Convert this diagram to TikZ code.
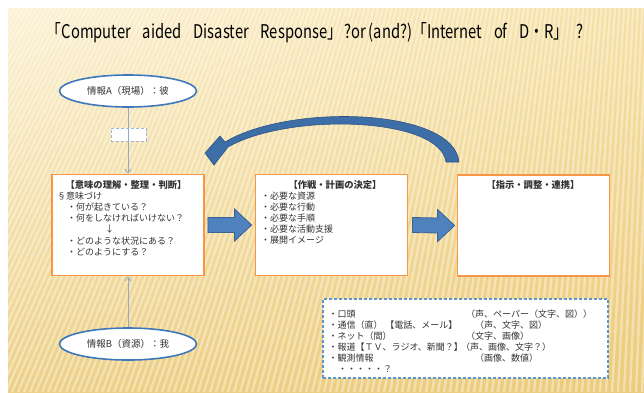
\documentclass[tikz,border=0pt]{standalone}
\usepackage{fontspec}
\setmainfont{Noto Sans CJK JP}
\usetikzlibrary{arrows.meta,calc,shapes.geometric,shadings}
\definecolor{boxorange}{HTML}{F79646}
\definecolor{ovalblue}{HTML}{3F78BA}
\definecolor{connblue}{HTML}{94A9C4}
\definecolor{arrowblue}{HTML}{4F81BD}
\definecolor{arrowedge}{HTML}{3A6294}
\definecolor{curveblue}{HTML}{3D6EA8}
\definecolor{curveedge}{HTML}{2E5585}
\definecolor{dashblue}{HTML}{5E96CC}
\definecolor{smallblue}{HTML}{9DB6D2}
\definecolor{txtgray}{HTML}{333333}
\definecolor{bgUL}{HTML}{FBF0D0}
\definecolor{bgUR}{HTML}{F5DFA2}
\definecolor{bgLL}{HTML}{EDD086}
\definecolor{bgLR}{HTML}{ECCB7C}
\newsavebox\ttlbox
\newcommand\tgap{\hspace{0.8em}}
\begin{document}
\begin{tikzpicture}[x=1pt,y=-1pt,
  box/.style={draw=boxorange, line width=1.8pt, fill=white, minimum width=152pt, minimum height=101pt, inner sep=0},
  oval/.style={ellipse, draw=ovalblue, line width=1.6pt, fill=white, minimum width=137pt, minimum height=32pt, inner sep=0, text=txtgray, font=\fontsize{9.5}{11}\selectfont},
  conn/.style={draw=connblue, line width=0.8pt, -{Straight Barb[length=4pt,width=6pt]}},
  txt/.style={font=\fontsize{9}{11}\selectfont, inner sep=0, anchor=west, text=txtgray},
  head/.style={font=\fontsize{9.3}{11}\selectfont\bfseries, inner sep=0, anchor=center, text=txtgray},
  blockarrow/.style={fill=arrowblue, draw=arrowedge, line width=0.8pt},
]
\useasboundingbox (0,0) rectangle (644,392);
% background
\fill[white] (0,0) rectangle (644,392);
\begin{scope}
\clip (8,8) rectangle (644,392);
\shade[upper left=bgUL, upper right=bgUR, lower left=bgLL, lower right=bgLR] (8,8) rectangle (644,392);
\foreach \i in {-240,-234,...,660}
  \draw[white, opacity=0.38, line width=2.4pt] (700,-1200) -- (\i,392);
\end{scope}
% title
\node[inner sep=0, text=black] (title) at (315,33)
  {\sbox\ttlbox{\fontsize{17}{17}\selectfont 「Computer\tgap aided\tgap Disaster\tgap Response」\hspace{0.15em}?or\hspace{0.2em}(and?)「Internet\tgap of\tgap D・R」\hspace{0.5em}?}\resizebox{536pt}{16pt}{\usebox\ttlbox}};
% boxes
\node[box] (b1) at (128,225) {};
\node[box] (b2) at (331.5,225) {};
\node[box] (b3) at (533.5,225.5) {};
% ovals
\node[oval] (ia) at (128,91) {情報A（現場）：彼};
\node[oval] (ib) at (128,344) {情報B（資源）：我};
% small dashed box
\node[draw=smallblue, densely dashed, line width=0.9pt, fill=white, minimum width=35pt, minimum height=13pt, inner sep=0] (sb) at (128.5,134.5) {};
% connectors
\draw[conn] (ia.south) -- (b1.north);
\draw[conn] (ib.north) -- (b1.south);
% block arrows
\draw[blockarrow] ($(b1.east)+(3,-7.5)$) -- ($(b2.west)+(-20,-7.5)$) -- ($(b2.west)+(-20,-16)$) -- ($(b2.west)+(-3,0)$) -- ($(b2.west)+(-20,16)$) -- ($(b2.west)+(-20,7.5)$) -- ($(b1.east)+(3,7.5)$) -- cycle;
\draw[blockarrow] ($(b2.east)+(4,-7.5)$) -- ($(b3.west)+(-19,-7.5)$) -- ($(b3.west)+(-19,-16)$) -- ($(b3.west)+(-2,0)$) -- ($(b3.west)+(-19,16)$) -- ($(b3.west)+(-19,7.5)$) -- ($(b2.east)+(4,7.5)$) -- cycle;
% curved arrow
\coordinate (cstart) at (452,162);
\coordinate (ctip) at (205,153);
\fill[curveblue, draw=curveedge, line width=0.6pt]
  (459,162) .. controls (454,108) and (290,103) .. (225,142)
  -- (220,136) -- (ctip) -- (214,165) -- (228,147)
  .. controls (290,112) and (440,117) .. (446,162) -- cycle;
% box 1 text
\node[head] (b1h) at (126,185) {【意味の理解・整理・判断】};
\node[txt] (b1a) at (57,196) {§意味づけ};
\node[txt] (b1b) at (67,207) {・何が起きている？};
\node[txt] (b1c) at (67,218) {・何をしなければいけない？};
\node[txt] (b1d) at (105,229) {↓};
\node[txt] (b1e) at (67,241) {・どのような状況にある？};
\node[txt] (b1f) at (67,252) {・どのようにする？};
% box 2 text
\node[head] (b2h) at (335,185) {【作戦・計画の決定】};
\node[txt] (b2a) at (261,196) {・必要な資源};
\node[txt] (b2b) at (261,207) {・必要な行動};
\node[txt] (b2c) at (261,218) {・必要な手順};
\node[txt] (b2d) at (261,229) {・必要な活動支援};
\node[txt] (b2e) at (261,240) {・展開イメージ};
% box 3 text
\node[head] (b3h) at (533,185) {【指示・調整・連携】};
% dashed box
\node[draw=dashblue, dash pattern=on 3pt off 2pt, line width=1.2pt, fill=white, minimum width=285pt, minimum height=79pt, inner sep=0] (db) at (465.5,338.5) {};
\node[txt] (d1) at (328.5,314) {・口頭};
\node[txt] (d1r) at (466,314) {（声、ペーパー（文字、図））};
\node[txt] (d2) at (328.5,325) {・通信（直）\hspace{0.3em}【電話、メール】};
\node[txt] (d2r) at (475,325) {（声、文字、図）};
\node[txt] (d3) at (328.5,336) {・ネット（間）};
\node[txt] (d3r) at (466,336) {（文字、画像）};
\node[txt] (d4) at (328.5,347) {・報道【ＴＶ、ラジオ、新聞？】};
\node[txt] (d4r) at (461,347) {（声、画像、文字？）};
\node[txt] (d5) at (328.5,358) {・観測情報};
\node[txt] (d5r) at (475,358) {（画像、数値）};
\node[txt] (d6) at (338,369) {・・・・・？};
\end{tikzpicture}
\end{document}
